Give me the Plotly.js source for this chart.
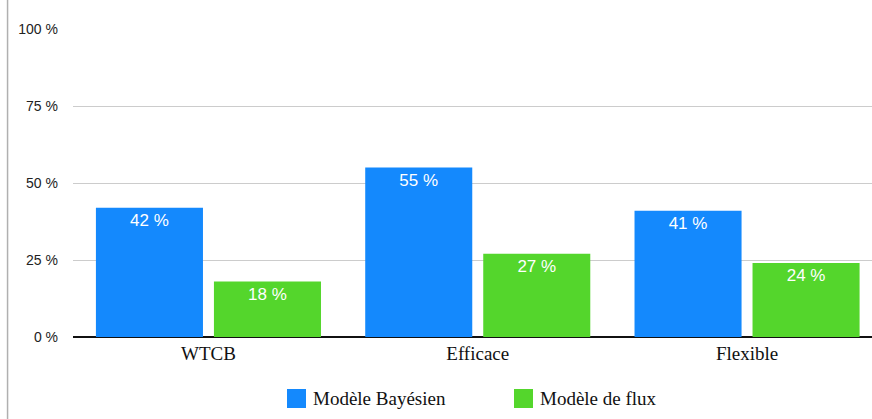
<!DOCTYPE html>
<html>
<head>
<meta charset="utf-8">
<script src="https://cdn.plot.ly/plotly-3.0.1.min.js"></script>
<style>
html,body{margin:0;padding:0;background:#fff;overflow:hidden;}
#chart{width:872px;height:419px;}
</style>
</head>
<body>
<div id="chart"></div>
<script>
const categories = ["WTCB", "Efficace", "Flexible"];
const bayesien = [42, 55, 41];
const flux = [18, 27, 24];
const seriesNames = ["Modèle Bayésien", "Modèle de flux"];
const yTicks = [0, 25, 50, 75, 100];

const blue = "#1489FD";
const green = "#54D62C";

function barTrace(name, vals, color) {
  return {
    type: "bar",
    name: name,
    x: categories,
    y: vals,
    marker: {color: color, line: {width: 0}},
    text: vals.map(v => v + " %"),
    textposition: "inside",
    insidetextanchor: "end",
    textangle: 0,
    textfont: {family: "Liberation Sans, Arial, sans-serif", size: 17, color: "#ffffff"},
    hoverinfo: "skip",
    showlegend: false
  };
}

const data = [
  barTrace(seriesNames[0], bayesien, blue),
  barTrace(seriesNames[1], flux, green)
];

const layout = {
  width: 872,
  height: 419,
  margin: {l: 73, r: 0, t: 29, b: 82, pad: 0},
  paper_bgcolor: "#ffffff",
  plot_bgcolor: "#ffffff",
  barmode: "group",
  bargap: 0.1235,
  bargroupgap: 0.093,
  showlegend: false,
  xaxis: {
    type: "category",
    range: [-0.503, 2.464],
    showgrid: false,
    showline: false,
    zeroline: false,
    ticks: "",
    ticklabelstandoff: 3,
    tickfont: {family: "Liberation Serif, Times New Roman, serif", size: 19, color: "#111111"},
    fixedrange: true
  },
  yaxis: {
    range: [0, 100],
    tickvals: yTicks,
    ticktext: yTicks.map(v => v + " %"),
    showgrid: true,
    gridcolor: "#cccccc",
    gridwidth: 1,
    zeroline: true,
    zerolinecolor: "#111111",
    zerolinewidth: 1.5,
    showline: false,
    ticks: "",
    ticklabelstandoff: 14,
    tickfont: {family: "Liberation Sans, Arial, sans-serif", size: 14, color: "#222222"},
    fixedrange: true
  },
  shapes: [
    {type: "line", xref: "paper", yref: "paper", x0: -0.0819, x1: -0.0819, y0: -0.3, y1: 1.2,
     line: {color: "#b0b0b0", width: 1.5}},
    {type: "rect", xref: "paper", yref: "paper",
     x0: (287 - 73) / 799, x1: (306 - 73) / 799, y0: (337 - 408) / 308, y1: (337 - 389) / 308,
     fillcolor: blue, line: {width: 0}},
    {type: "rect", xref: "paper", yref: "paper",
     x0: (514 - 73) / 799, x1: (533 - 73) / 799, y0: (337 - 408) / 308, y1: (337 - 389) / 308,
     fillcolor: green, line: {width: 0}}
  ],
  annotations: [
    {xref: "paper", yref: "paper", x: (311 - 73) / 799, y: (337 - 398.5) / 308, xanchor: "left", yanchor: "middle",
     text: seriesNames[0], showarrow: false,
     font: {family: "Liberation Serif, Times New Roman, serif", size: 19, color: "#111111"}},
    {xref: "paper", yref: "paper", x: (538 - 73) / 799, y: (337 - 398.5) / 308, xanchor: "left", yanchor: "middle",
     text: seriesNames[1], showarrow: false,
     font: {family: "Liberation Serif, Times New Roman, serif", size: 19, color: "#111111"}}
  ]
};

Plotly.newPlot("chart", data, layout, {displayModeBar: false, staticPlot: true});
</script>
</body>
</html>
